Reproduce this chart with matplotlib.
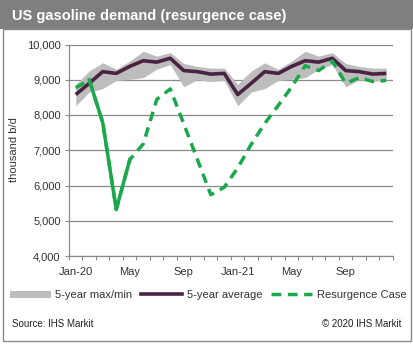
import matplotlib
matplotlib.use("Agg")
import matplotlib.pyplot as plt
from matplotlib.patches import Rectangle, Patch
from matplotlib.lines import Line2D
import numpy as np

plt.rcParams['font.family'] = ['Liberation Sans', 'DejaVu Sans']

# ---- data (thousand b/d) ----
months = ["Jan-20", "Feb", "Mar", "Apr", "May", "Jun", "Jul", "Aug", "Sep", "Oct", "Nov", "Dec",
          "Jan-21", "Feb", "Mar", "Apr", "May", "Jun", "Jul", "Aug", "Sep", "Oct", "Nov", "Dec"]
tick_labels = ["Jan-20", "May", "Sep", "Jan-21", "May", "Sep"]
band_max = [8870, 9250, 9480, 9300, 9530, 9810, 9670, 9770, 9460, 9380, 9330, 9330,
            8870, 9250, 9480, 9300, 9530, 9810, 9670, 9770, 9460, 9380, 9330, 9330]
band_min = [8260, 8650, 8750, 8980, 9010, 9060, 9300, 9430, 8800, 9000, 8950, 8980,
            8260, 8650, 8750, 8980, 9010, 9060, 9300, 9430, 8800, 9000, 8950, 8980]
avg5 = [8580, 8900, 9230, 9180, 9380, 9540, 9500, 9610, 9260, 9230, 9160, 9180,
        8580, 8900, 9230, 9180, 9380, 9540, 9500, 9610, 9260, 9230, 9160, 9180]
resurgence = [8770, 9000, 7780, 5320, 6730, 7180, 8440, 8740, 7750, 6750, 5740, 5950,
              6500, 7170, 7760, 8270, 8800, 9400, 9260, 9530, 8900, 9060, 8950, 8980]
actual_idx = [1, 2, 3, 4]  # solid (actual) portion Feb-May 2020

W, H = 414, 344
fig = plt.figure(figsize=(W / 100, H / 100), dpi=100)

def fx(px):
    return px / W

def fy(py):
    return 1 - py / H

# title bar and frame
fig.patches.append(Rectangle((0, fy(29)), 1, 29 / H, transform=fig.transFigure,
                             facecolor="#7f7f7f", edgecolor="none", zorder=0))
fig.patches.append(Rectangle((fx(3), fy(341)), fx(408), (341 - 29) / H, transform=fig.transFigure,
                             facecolor="none", edgecolor="#8a8a8a", linewidth=1.0, zorder=0))
fig.text(fx(12), fy(16), "US gasoline demand (resurgence case)", color="white",
         fontsize=10.5, fontweight="bold", va="center", ha="left")

ax = fig.add_axes([fx(69), fy(256), fx(393 - 69), (256 - 44.5) / H])
x = np.arange(len(months))

ax.fill_between(x, band_min, band_max, color="#bdbdbd", linewidth=0, zorder=2)
ax.plot(x, avg5, color="#4a2343", linewidth=2.6, zorder=3, solid_capstyle="butt")
ax.plot(x, resurgence, color="#1ba84b", linewidth=2.5, linestyle=(0, (2.8, 1.9)), zorder=4)
ax.plot([x[i] for i in actual_idx], [resurgence[i] for i in actual_idx],
        color="#1ba84b", linewidth=2.5, zorder=5)

ax.set_xlim(-0.5, len(months) - 0.5)
ax.set_ylim(4000, 10000)
ax.set_yticks(np.arange(4000, 10001, 1000))
ax.set_yticklabels([f"{v:,}" for v in range(4000, 10001, 1000)])
ax.yaxis.grid(True, color="#8a8a8a", linewidth=0.9, zorder=1)
ax.set_axisbelow(True)

ax.set_xticks(np.arange(0, len(months), 4))
ax.set_xticklabels(tick_labels)
ax.set_xticks(np.arange(-0.5, len(months), 1), minor=True)
ax.tick_params(axis="x", which="major", length=0, pad=8, labelsize=8, labelcolor="#333333")
ax.tick_params(axis="x", which="minor", length=3, color="#8a8a8a", width=0.8)
ax.tick_params(axis="y", length=3, color="#8a8a8a", width=0.8, labelsize=8, labelcolor="#333333", pad=3)

for s in ["top", "right"]:
    ax.spines[s].set_visible(False)
for s in ["left", "bottom"]:
    ax.spines[s].set_color("#8a8a8a")
    ax.spines[s].set_linewidth(0.9)

ax.set_ylabel("thousand b/d", fontsize=8, color="#333333", labelpad=8)
ax.yaxis.set_label_coords(fx(14) - fx(69), 0.5, transform=None) if False else None
fig.text(fx(14), fy(150), "thousand b/d", rotation=90, fontsize=8, color="#333333",
         ha="center", va="center")
ax.set_ylabel("")

handles = [
    Patch(facecolor="#bdbdbd", edgecolor="none"),
    Line2D([], [], color="#4a2343", linewidth=2.6),
    Line2D([], [], color="#1ba84b", linewidth=2.5, linestyle=(0, (2.8, 1.9))),
]
labels = ["5-year max/min", "5-year average", "Resurgence Case"]
leg = fig.legend(handles, labels, loc="center", bbox_to_anchor=(fx(208), fy(295)), ncol=3,
                 frameon=False, fontsize=8, handlelength=3.7, handleheight=0.6,
                 handletextpad=0.4, columnspacing=0.8, labelcolor="#333333")

fig.text(fx(12), fy(324), "Source: IHS Markit", fontsize=7, color="#222222", ha="left", va="center")
fig.text(fx(401), fy(324), "\u00a9 2020 IHS Markit", fontsize=7, color="#222222", ha="right", va="center")

fig.savefig("out.png", dpi=100)
